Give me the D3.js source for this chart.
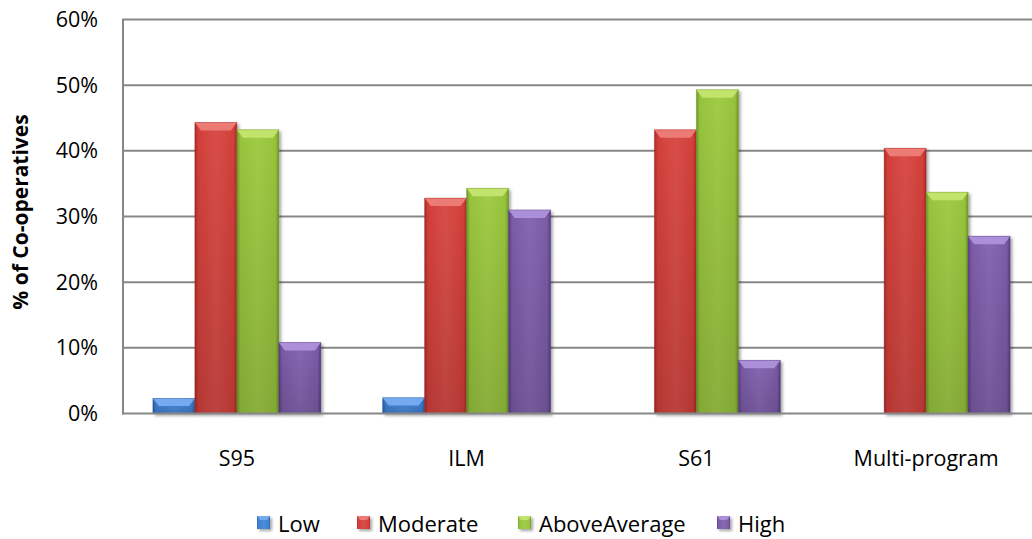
<!DOCTYPE html>
<html lang="en">
<head>
  <meta charset="UTF-8">
  <title>% of Co-operatives by program</title>
  <style>
    body { margin: 0; background: #fff; overflow: hidden; }
    svg { display: block; }
    text { font-family: "Open Sans", "Liberation Sans", sans-serif; fill: #000; }
    .grid line { stroke: #878787; stroke-width: 2px; }
    .tick-label { font-size: 21.5px; }
    .cat-label { font-size: 21.5px; }
    .legend-label { font-size: 22px; }
    .y-title { font-size: 21px; font-weight: bold; }
  </style>
</head>
<body>
  <script src="https://d3js.org/d3.v7.min.js"></script>
  <script>
    const categories = ["S95", "ILM", "S61", "Multi-program"];
    const seriesNames = ["Low", "Moderate", "AboveAverage", "High"];
    const low = [2.3, 2.4, 0, 0];
    const moderate = [44.3, 32.8, 43.2, 40.4];
    const aboveAverage = [43.2, 34.3, 49.3, 33.7];
    const high = [10.8, 31.0, 8.1, 27.0];
    const yTicks = [0, 10, 20, 30, 40, 50, 60];

    const seriesValues = [low, moderate, aboveAverage, high];

    // base / light / dark shades per series
    const palette = {
      Low: { base: "#3f80d2", light: "#74aaf0", dark: "#2a5fa8" },
      Moderate: { base: "#d33f3a", light: "#ec7a74", dark: "#a82a27" },
      AboveAverage: { base: "#97c43c", light: "#c2e46c", dark: "#6e9528" },
      High: { base: "#7b5ba7", light: "#ab8fd8", dark: "#573d80" }
    };

    const width = 1032, height = 539;
    const plot = { left: 122, right: 1041, top: 19.5, bottom: 413.5 };

    const svg = d3.select("body").append("svg").attr("width", width).attr("height", height);
    const defs = svg.append("defs");

    defs.append("filter").attr("id", "shadow")
      .attr("x", "-20%").attr("y", "-20%").attr("width", "150%").attr("height", "150%")
      .append("feDropShadow")
      .attr("dx", 2).attr("dy", 2).attr("stdDeviation", 1.8)
      .attr("flood-color", "#000").attr("flood-opacity", 0.35);

    seriesNames.forEach(name => {
      const c = palette[name];
      const grad = defs.append("linearGradient").attr("id", "grad-" + name)
        .attr("x1", 0).attr("x2", 1).attr("y1", 0).attr("y2", 0);
      [[0, c.dark], [0.08, c.base], [0.5, d3.interpolateRgb(c.base, c.light)(0.25)], [0.92, c.base], [1, c.dark]]
        .forEach(([o, col]) => grad.append("stop").attr("offset", o).attr("stop-color", col));
    });

    const shade = defs.append("linearGradient").attr("id", "shade")
      .attr("x1", 0).attr("x2", 0).attr("y1", 0).attr("y2", 1);
    shade.append("stop").attr("offset", 0).attr("stop-color", "#000").attr("stop-opacity", 0);
    shade.append("stop").attr("offset", 1).attr("stop-color", "#000").attr("stop-opacity", 0.14);

    const x0 = d3.scaleBand().domain(categories).range([plot.left, plot.right]).padding(0);
    const x1 = d3.scaleBand().domain(seriesNames).range([0, x0.bandwidth()]).paddingInner(0).paddingOuter(0.735);
    const y = d3.scaleLinear().domain([0, 60]).range([plot.bottom, plot.top]);

    // gridlines
    svg.append("g").attr("class", "grid")
      .selectAll("line").data(yTicks.filter(t => t > 0)).enter().append("line")
      .attr("x1", plot.left).attr("x2", plot.right)
      .attr("y1", d => y(d)).attr("y2", d => y(d));

    // tick labels
    svg.append("g").selectAll("text").data(yTicks).enter().append("text")
      .attr("class", "tick-label")
      .attr("x", 98).attr("y", d => y(d) + 7.5)
      .attr("text-anchor", "end")
      .text(d => d + "%");

    // bars
    const bars = [];
    categories.forEach((cat, ci) => {
      seriesNames.forEach((s, si) => {
        const v = seriesValues[si][ci];
        if (v > 0) bars.push({ cat, series: s, value: v });
      });
    });

    const drawBar = (sel, x, yTop, w, h, name) => {
      const c = palette[name];
      const g = sel.append("g").attr("filter", "url(#shadow)");
      g.append("rect").attr("x", x).attr("y", yTop).attr("width", w).attr("height", h)
        .attr("fill", "url(#grad-" + name + ")");
      g.append("rect").attr("x", x).attr("y", yTop).attr("width", w).attr("height", h)
        .attr("fill", "url(#shade)");
      const b = Math.min(8, h / 2), s = Math.min(6, w / 4);
      g.append("polygon")
        .attr("points", [[x, yTop], [x + w, yTop], [x + w - s, yTop + b], [x + s, yTop + b]].map(p => p.join(",")).join(" "))
        .attr("fill", c.light);
      g.append("rect").attr("x", x).attr("y", yTop).attr("width", w).attr("height", h)
        .attr("fill", "none").attr("stroke", c.dark).attr("stroke-opacity", 0.5).attr("stroke-width", 0.8);
    };

    const barLayer = svg.append("g");
    bars.forEach(d => {
      drawBar(barLayer, x0(d.cat) + x1(d.series), y(d.value), x1.bandwidth(), y(0) - y(d.value), d.series);
    });

    // axes lines
    svg.append("line").attr("x1", plot.left + 1).attr("x2", plot.left + 1)
      .attr("y1", plot.top).attr("y2", plot.bottom + 1)
      .attr("stroke", "#878787").attr("stroke-width", 2);
    svg.append("line").attr("x1", plot.left).attr("x2", plot.right)
      .attr("y1", plot.bottom).attr("y2", plot.bottom)
      .attr("stroke", "#878787").attr("stroke-width", 2);

    // category labels
    svg.append("g").selectAll("text").data(categories).enter().append("text")
      .attr("class", "cat-label")
      .attr("x", d => x0(d) + x0.bandwidth() / 2)
      .attr("y", 466)
      .attr("text-anchor", "middle")
      .text(d => d);

    // y title
    svg.append("text").attr("class", "y-title")
      .attr("transform", "translate(28,212) rotate(-90)")
      .attr("text-anchor", "middle")
      .text("% of Co-operatives");

    // legend
    const legendX = [257, 357, 518, 717];
    const legend = svg.append("g");
    seriesNames.forEach((name, i) => {
      const c = palette[name];
      const lx = legendX[i];
      const g = legend.append("g").attr("filter", "url(#shadow)");
      g.append("rect").attr("x", lx).attr("y", 516).attr("width", 13).attr("height", 13)
        .attr("fill", "url(#grad-" + name + ")");
      g.append("polygon")
        .attr("points", [[lx, 516], [lx + 13, 516], [lx + 10, 520], [lx + 3, 520]].map(p => p.join(",")).join(" "))
        .attr("fill", c.light);
      legend.append("text").attr("class", "legend-label")
        .attr("x", lx + 21).attr("y", 532)
        .text(name);
    });
  </script>
</body>
</html>
